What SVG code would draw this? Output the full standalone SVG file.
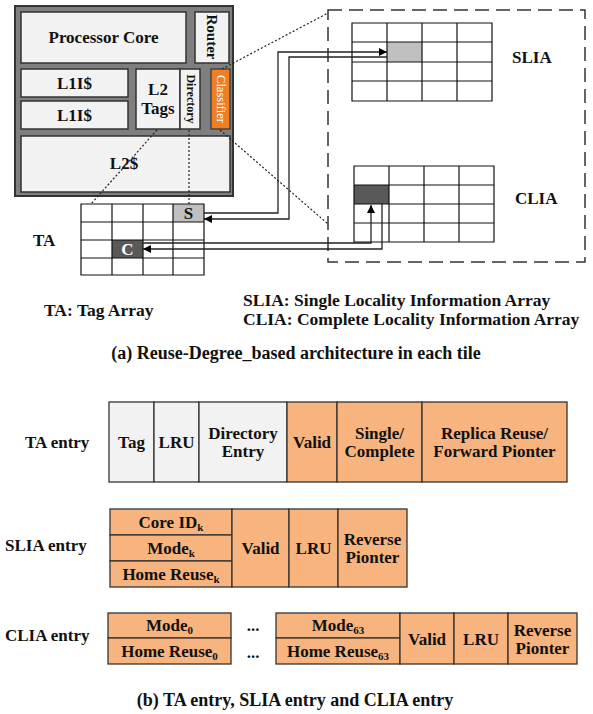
<svg xmlns="http://www.w3.org/2000/svg" width="593" height="714" viewBox="0 0 593 714">
<style>
text{font-family:"Liberation Serif","Times New Roman",serif;font-weight:bold;font-size:17px;fill:#111}
.m{text-anchor:middle}
.box{fill:#F2F2F2;stroke:#333;stroke-width:1.5}
.peach{fill:#F8B47E;stroke:#333;stroke-width:1.3}
.grey{fill:#F2F2F2;stroke:#333;stroke-width:1.3}
.grid{fill:none;stroke:#111;stroke-width:1.2}
.dot{fill:none;stroke:#222;stroke-width:1.2;stroke-dasharray:2 2}
.conn{fill:none;stroke:#222;stroke-width:1.3}
.sub{font-size:11px}
.leg{font-size:17.5px}
.cap{font-size:18px}
</style>
<defs>
<marker id="ah" viewBox="0 0 10 10" refX="10" refY="5" markerWidth="9" markerHeight="8" markerUnits="userSpaceOnUse" orient="auto">
<path d="M0,0 L10,5 L0,10 z" fill="#000"/>
</marker>
</defs>

<g id="chip">
<rect x="15" y="6" width="218" height="190" fill="#7F7F7F" stroke="#333" stroke-width="2"/>
<g id="processor-core"><rect class="box" x="21" y="12" width="165" height="51"/><text class="m" x="103.5" y="43">Processor Core</text></g>
<g id="router"><rect class="box" x="195" y="12" width="34" height="51"/><text class="m" style="font-size:15px" transform="translate(207,37) rotate(90)">Router</text></g>
<g id="l1i-1"><rect class="box" x="21" y="69" width="107" height="28"/><text class="m" x="74.5" y="89">L1I$</text></g>
<g id="l1i-2"><rect class="box" x="21" y="101" width="107" height="28"/><text class="m" x="74.5" y="121">L1I$</text></g>
<g id="l2-tags"><rect class="box" x="136" y="69" width="44" height="60"/><text class="m" x="158" y="95">L2</text><text class="m" x="158" y="114">Tags</text></g>
<g id="directory"><rect class="box" x="180" y="69" width="20" height="60"/><text class="m" style="font-size:12px" transform="translate(186.5,99) rotate(90)">Directory</text></g>
<g id="classifier"><rect x="211" y="69" width="19" height="60" fill="#EF7F22" stroke="#333" stroke-width="1.2"/><text class="m" style="font-size:12.5px;font-weight:normal;fill:#fff" transform="translate(216.5,99) rotate(90)">Classifier</text></g>
<g id="l2-cache"><rect class="box" x="21" y="136" width="209" height="56"/><text class="m" x="124" y="169">L2$</text></g>
</g>

<g id="ta">
<rect x="173" y="204" width="31" height="18" fill="#C0C0C0"/>
<rect x="112" y="240" width="31" height="18" fill="#595959"/>
<path class="grid" d="M81,204H204V275H81Z M112,204V275 M143,204V275 M173,204V275 M81,222H204 M81,240H204 M81,258H204"/>
<text class="m" x="188.5" y="219">S</text>
<text class="m" x="127.5" y="255" style="fill:#fff">C</text>
<text x="33" y="246">TA</text>
</g>

<g id="locality-box">
<rect x="328" y="10" width="257" height="252" fill="none" stroke="#333" stroke-width="1.5" stroke-dasharray="14 7"/>
</g>

<g id="slia">
<rect x="387" y="42" width="35" height="20" fill="#C0C0C0"/>
<path class="grid" d="M352,23H492V101H352Z M387,23V101 M422,23V101 M457,23V101 M352,42H492 M352,62H492 M352,81H492"/>
<text x="512" y="63">SLIA</text>
</g>

<g id="clia">
<rect x="354" y="185" width="35" height="19" fill="#595959"/>
<path class="grid" d="M354,166H494V242H354Z M389,166V242 M424,166V242 M459,166V242 M354,185H494 M354,204H494 M354,223H494"/>
<text x="515" y="204">CLIA</text>
</g>

<g id="connectors">
<path class="dot" d="M157,130L91,204"/>
<path class="dot" d="M189,130V204"/>
<path class="dot" d="M222,69L328,13"/>
<path class="dot" d="M220,130L328,224"/>
<path class="conn" d="M204,213H278V52H387" marker-end="url(#ah)"/>
<path class="conn" d="M387,57H289V219H204" marker-end="url(#ah)"/>
<path class="conn" d="M143,243H371V205" marker-end="url(#ah)"/>
<path class="conn" d="M382,204V249H143" marker-end="url(#ah)"/>
</g>

<g id="legend">
<text class="leg" x="44" y="316">TA: Tag Array</text>
<text class="leg" x="243" y="306">SLIA: Single Locality Information Array</text>
<text class="leg" x="243" y="325">CLIA: Complete Locality Information Array</text>
<text class="m cap" x="296" y="359">(a) Reuse-Degree_based architecture in each tile</text>
</g>

<g id="ta-entry">
<text x="25" y="448">TA entry</text>
<rect class="grey" x="109" y="402" width="45" height="80"/>
<rect class="grey" x="154" y="402" width="45" height="80"/>
<rect class="grey" x="199" y="402" width="88" height="80"/>
<rect class="peach" x="287" y="402" width="50" height="80"/>
<rect class="peach" x="337" y="402" width="85" height="80"/>
<rect class="peach" x="422" y="402" width="145" height="80"/>
<text class="m" x="131.5" y="448">Tag</text>
<text class="m" x="176.5" y="448">LRU</text>
<text class="m" x="243" y="439">Directory</text>
<text class="m" x="243" y="457">Entry</text>
<text class="m" x="312" y="448">Valid</text>
<text class="m" x="379.5" y="439">Single/</text>
<text class="m" x="379.5" y="457">Complete</text>
<text class="m" x="494.5" y="439">Replica Reuse/</text>
<text class="m" x="494.5" y="457">Forward Pionter</text>
</g>

<g id="slia-entry">
<text x="5" y="551">SLIA entry</text>
<rect class="peach" x="110" y="509" width="122" height="26"/>
<rect class="peach" x="110" y="535" width="122" height="26"/>
<rect class="peach" x="110" y="561" width="122" height="26"/>
<rect class="peach" x="232" y="509" width="57" height="78"/>
<rect class="peach" x="289" y="509" width="49" height="78"/>
<rect class="peach" x="338" y="509" width="69" height="78"/>
<text class="m" x="171" y="528">Core ID<tspan class="sub" dy="3">k</tspan></text>
<text class="m" x="171" y="554">Mode<tspan class="sub" dy="3">k</tspan></text>
<text class="m" x="171" y="580">Home Reuse<tspan class="sub" dy="3">k</tspan></text>
<text class="m" x="260.5" y="554">Valid</text>
<text class="m" x="313.5" y="554">LRU</text>
<text class="m" x="372.5" y="545">Reverse</text>
<text class="m" x="372.5" y="563">Pionter</text>
</g>

<g id="clia-entry">
<text x="5" y="641">CLIA entry</text>
<rect class="peach" x="108" y="613" width="123" height="25"/>
<rect class="peach" x="108" y="638" width="123" height="26"/>
<rect class="peach" x="276" y="613" width="124" height="25"/>
<rect class="peach" x="276" y="638" width="124" height="26"/>
<rect class="peach" x="400" y="613" width="54" height="51"/>
<rect class="peach" x="454" y="613" width="54" height="51"/>
<rect class="peach" x="508" y="613" width="69" height="51"/>
<text class="m" x="169.5" y="631">Mode<tspan class="sub" dy="3">0</tspan></text>
<text class="m" x="169.5" y="657">Home Reuse<tspan class="sub" dy="3">0</tspan></text>
<text class="m" x="253" y="631">...</text>
<text class="m" x="253" y="658">...</text>
<text class="m" x="338" y="631">Mode<tspan class="sub" dy="3">63</tspan></text>
<text class="m" x="338" y="657">Home Reuse<tspan class="sub" dy="3">63</tspan></text>
<text class="m" x="427" y="645">Valid</text>
<text class="m" x="481" y="645">LRU</text>
<text class="m" x="542.5" y="636">Reverse</text>
<text class="m" x="542.5" y="654">Pionter</text>
<text class="m cap" x="295" y="706">(b) TA entry, SLIA entry and CLIA entry</text>
</g>
</svg>
